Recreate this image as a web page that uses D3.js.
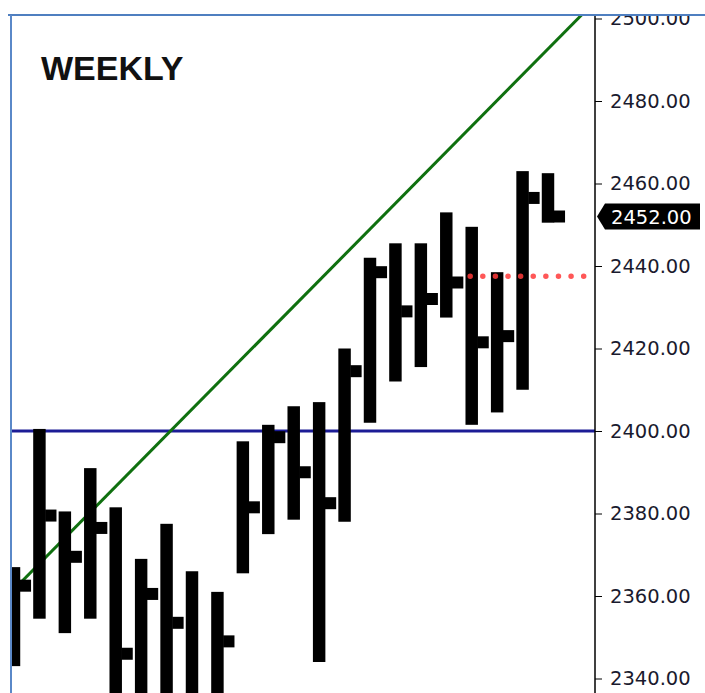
<!DOCTYPE html>
<html>
<head>
<meta charset="utf-8">
<script src="https://cdn.jsdelivr.net/npm/d3@7/dist/d3.min.js"></script>
<style>
  html, body { margin: 0; padding: 0; background: #ffffff; }
  svg { display: block; }
</style>
</head>
<body>
<svg id="chart" width="705" height="693"></svg>
<script>
// ---- data ----
const weeks = d3.range(22);
const highs  = [2367, 2400.5, 2380.5, 2391, 2381.5, 2369, 2377.5, 2366, 2361, 2397.5, 2401.5, 2406, 2407, 2420, 2442, 2445.5, 2445.5, 2453, 2449.5, 2438.5, 2463, 2462.5];
const lows   = [2343, 2354.5, 2351, 2354.5, 2330, 2330, 2330, 2330, 2330, 2365.5, 2375, 2378.5, 2344, 2378, 2402, 2412, 2415.5, 2427.5, 2401.5, 2404.5, 2410, 2450.5];
const closes = [2362.5, 2379.5, 2369.5, 2376.5, 2346, 2360.5, 2353.5, 2334, 2349, 2381.5, 2398.5, 2390, 2382.5, 2414.5, 2438.5, 2429, 2432, 2436, 2421.5, 2423, 2456.5, 2452];
const yTicks = [2340, 2360, 2380, 2400, 2420, 2440, 2460, 2480, 2500];
const lastPrice = 2452;
const supportLevel = 2400;
const dottedLevel = 2437.5;
const dottedRange = [17.94, 22.5];
const trendIdx = [0, 22.32];
const trendVal = [2361.6, 2500.85];
const title = "WEEKLY";

// ---- layout ----
const W = 705, H = 693;
const plotLeft = 11, plotTop = 15, axisX = 595;

const x = d3.scaleLinear().domain([0, 21]).range([14, 548]);
const y = d3.scaleLinear().domain([2340, 2500]).range([678.5, 18.5]);
const step = x(1) - x(0);
const bodyW = step * 0.49;
const tickW = step * 0.445;
const tickH = 12;

const svg = d3.select("#chart");
svg.append("rect").attr("width", W).attr("height", H).attr("fill", "#fff");

const defs = svg.append("defs");
defs.append("clipPath").attr("id", "plotClip")
  .append("rect").attr("x", plotLeft).attr("y", plotTop)
  .attr("width", axisX - plotLeft).attr("height", H - plotTop);
defs.append("clipPath").attr("id", "axisClip")
  .append("rect").attr("x", axisX - 2).attr("y", plotTop + 1)
  .attr("width", W - axisX + 2).attr("height", H - plotTop);

const plot = svg.append("g").attr("clip-path", "url(#plotClip)");

// support line
plot.append("line")
  .attr("x1", plotLeft).attr("x2", axisX)
  .attr("y1", y(supportLevel)).attr("y2", y(supportLevel))
  .attr("stroke", "#1c1c96").attr("stroke-width", 3);

// trend line (extended to the left border along the same slope)
const slope = (trendVal[1] - trendVal[0]) / (trendIdx[1] - trendIdx[0]);
plot.append("line")
  .attr("x1", x(-1)).attr("y1", y(trendVal[0] - slope))
  .attr("x2", x(trendIdx[1])).attr("y2", y(trendVal[1]))
  .attr("stroke", "#0f700f").attr("stroke-width", 3);

const data = weeks.map(i => ({ i, h: highs[i], l: lows[i], c: closes[i] }));

// bars (high-low bodies)
plot.selectAll("rect.hl").data(data).enter().append("rect")
  .attr("class", "hl")
  .attr("x", d => x(d.i) - bodyW / 2)
  .attr("y", d => y(d.h))
  .attr("width", bodyW)
  .attr("height", d => y(d.l) - y(d.h))
  .attr("fill", "#000");

// close ticks
plot.selectAll("rect.cl").data(data).enter().append("rect")
  .attr("class", "cl")
  .attr("x", d => x(d.i) + bodyW / 2 - 0.5)
  .attr("y", d => y(d.c) - tickH / 2)
  .attr("width", tickW)
  .attr("height", tickH)
  .attr("fill", "#000");

// dotted red level
plot.append("line")
  .attr("x1", x(dottedRange[0])).attr("x2", x(dottedRange[1]))
  .attr("y1", y(dottedLevel)).attr("y2", y(dottedLevel))
  .attr("stroke", "#ff3a3a").attr("stroke-opacity", 0.85)
  .attr("stroke-width", 5.5).attr("stroke-linecap", "round")
  .attr("stroke-dasharray", "0.01 12.6");

// title
svg.append("text")
  .attr("x", 41).attr("y", 80)
  .attr("font-family", "Liberation Sans, Arial, sans-serif")
  .attr("font-weight", "bold").attr("font-size", 34)
  .attr("fill", "#111").text(title);

// axis
const axisG = svg.append("g").attr("clip-path", "url(#axisClip)");
const ax = axisG.append("g").attr("transform", `translate(${axisX},0)`)
  .call(d3.axisRight(y).tickValues(yTicks).tickFormat(d3.format(".2f"))
    .tickSize(7).tickSizeOuter(0).tickPadding(8));
ax.select(".domain").remove();
ax.selectAll(".tick line").attr("stroke", "#000");
ax.selectAll(".tick text")
  .attr("font-family", "DejaVu Sans, sans-serif")
  .attr("font-size", 19.5).attr("fill", "#1a1a2e");
axisG.append("line")
  .attr("x1", axisX).attr("x2", axisX).attr("y1", plotTop).attr("y2", H)
  .attr("stroke", "#000").attr("stroke-width", 1.5);

// last price label
const py = y(lastPrice);
svg.append("path")
  .attr("d", `M${axisX + 2},${py} L${axisX + 10},${py - 13} L${W - 5},${py - 13} L${W - 5},${py + 13} L${axisX + 10},${py + 13} Z`)
  .attr("fill", "#000");
svg.append("text")
  .attr("x", axisX + 16).attr("y", py).attr("dy", "0.36em")
  .attr("font-family", "DejaVu Sans, sans-serif").attr("font-size", 19.5)
  .attr("fill", "#fff").text(d3.format(".2f")(lastPrice));

// frame borders
svg.append("line")
  .attr("x1", 8).attr("x2", W).attr("y1", plotTop).attr("y2", plotTop)
  .attr("stroke", "#4f7fc0").attr("stroke-width", 2);
svg.append("line")
  .attr("x1", plotLeft).attr("x2", plotLeft).attr("y1", plotTop).attr("y2", H)
  .attr("stroke", "#5a88c8").attr("stroke-width", 2);
</script>
</body>
</html>
